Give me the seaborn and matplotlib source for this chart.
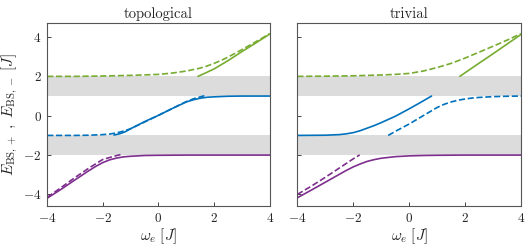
import numpy as np
import pandas as pd
import seaborn as sns
import matplotlib.pyplot as plt

# bound-state energies, omega_e in units of J
# topological panel
topo_purple_solid_x = [-4, -3.5, -3, -2.5, -2.25, -2, -1.75, -1.5, -1.25, -1, -0.5, 0, 1, 2, 3, 4]
topo_purple_solid_y = [-4.19, -3.74, -3.26, -2.79, -2.57, -2.38, -2.24, -2.15, -2.09, -2.06, -2.02, -2.01, -2.0, -2.0, -2.0, -2.0]
topo_purple_dash_x = [-4, -3.5, -3, -2.5, -2, -1.6, -1.35]
topo_purple_dash_y = [-4.15, -3.65, -3.14, -2.66, -2.22, -2.06, -1.97]
topo_blue_solid_x = [-1.6, -1.4, -1.2, -1, -0.5, 0, 0.5, 1, 1.25, 1.5, 1.75, 2, 2.5, 3, 4]
topo_blue_solid_y = [-0.98, -0.92, -0.82, -0.66, -0.3, 0.02, 0.37, 0.7, 0.81, 0.89, 0.94, 0.96, 0.99, 1.0, 1.0]
topo_blue_dash_x = [-4, -3, -2.5, -2, -1.75, -1.5, -1.25, -1, -0.5, 0, 0.5, 1, 1.3, 1.66]
topo_blue_dash_y = [-1.0, -1.0, -0.99, -0.96, -0.93, -0.87, -0.78, -0.66, -0.32, 0.02, 0.37, 0.72, 0.88, 1.02]
topo_green_solid_x = [1.42, 1.7, 2, 2.5, 3, 3.5, 4]
topo_green_solid_y = [2.0, 2.18, 2.38, 2.8, 3.26, 3.7, 4.15]
topo_green_dash_x = [-4, -3, -2, -1, 0, 0.5, 1, 1.5, 1.75, 2, 2.25, 2.5, 3, 3.5, 4]
topo_green_dash_y = [2.0, 2.0, 2.02, 2.05, 2.1, 2.17, 2.27, 2.42, 2.53, 2.66, 2.81, 2.98, 3.36, 3.76, 4.17]

# trivial panel
triv_purple_solid_x = [-4, -3.5, -3, -2.5, -2.25, -2, -1.75, -1.5, -1.25, -1, -0.5, 0, 0.5, 1, 2, 3, 4]
triv_purple_solid_y = [-4.17, -3.78, -3.38, -2.98, -2.78, -2.6, -2.45, -2.32, -2.23, -2.16, -2.08, -2.04, -2.02, -2.01, -2.0, -2.0, -2.0]
triv_purple_dash_x = [-4, -3.5, -3, -2.5, -2, -1.77]
triv_purple_dash_y = [-4.0, -3.58, -3.13, -2.66, -2.19, -1.99]
triv_blue_solid_x = [-4, -3, -2.5, -2.25, -2, -1.75, -1.5, -1.25, -1, -0.5, 0, 0.4, 0.8]
triv_blue_solid_y = [-1.0, -0.99, -0.96, -0.92, -0.86, -0.76, -0.63, -0.5, -0.35, -0.03, 0.35, 0.67, 1.0]
triv_blue_dash_x = [-0.75, -0.5, 0, 0.5, 1, 1.25, 1.5, 1.75, 2, 2.25, 2.5, 3, 3.5, 4]
triv_blue_dash_y = [-1.0, -0.8, -0.42, 0.0, 0.42, 0.58, 0.7, 0.79, 0.85, 0.9, 0.93, 0.97, 0.99, 1.0]
triv_green_solid_x = [1.81, 2.5, 3, 3.5, 4]
triv_green_solid_y = [2.0, 2.67, 3.15, 3.64, 4.13]
triv_green_dash_x = [-4, -3, -2, -1, -0.5, 0, 0.5, 1, 1.5, 2, 2.5, 3, 3.5, 4]
triv_green_dash_y = [2.0, 2.01, 2.03, 2.07, 2.1, 2.15, 2.27, 2.45, 2.66, 2.93, 3.23, 3.53, 3.84, 4.17]

# continuum bands
bands = [(1, 2), (-2, -1)]
titles = ['topological', 'trivial']

green = '#77AC30'
blue = '#0072BD'
purple = '#7E2F8E'

panels = [
    [(topo_green_dash_x, topo_green_dash_y, green, '--'),
     (topo_green_solid_x, topo_green_solid_y, green, '-'),
     (topo_blue_dash_x, topo_blue_dash_y, blue, '--'),
     (topo_blue_solid_x, topo_blue_solid_y, blue, '-'),
     (topo_purple_dash_x, topo_purple_dash_y, purple, '--'),
     (topo_purple_solid_x, topo_purple_solid_y, purple, '-')],
    [(triv_green_dash_x, triv_green_dash_y, green, '--'),
     (triv_green_solid_x, triv_green_solid_y, green, '-'),
     (triv_blue_dash_x, triv_blue_dash_y, blue, '--'),
     (triv_blue_solid_x, triv_blue_solid_y, blue, '-'),
     (triv_purple_dash_x, triv_purple_dash_y, purple, '--'),
     (triv_purple_solid_x, triv_purple_solid_y, purple, '-')],
]

sns.set_style('ticks')
plt.rcParams['font.family'] = ['cmr10']
plt.rcParams['mathtext.fontset'] = 'cm'
plt.rcParams['axes.formatter.use_mathtext'] = True
plt.rcParams['axes.unicode_minus'] = True

fig = plt.figure(figsize=(5.3, 2.5), dpi=100)
ax1 = fig.add_axes([0.089, 0.175, 0.420, 0.732])
ax2 = fig.add_axes([0.561, 0.175, 0.422, 0.732])

for ax, lines, title in zip([ax1, ax2], panels, titles):
    for lo, hi in bands:
        ax.axhspan(lo, hi, color='#dcdcdc', lw=0, zorder=0)
    for xs, ys, col, ls in lines:
        df = pd.DataFrame({'w': xs, 'E': ys})
        sns.lineplot(data=df, x='w', y='E', ax=ax, color=col,
                     linestyle=ls, lw=1.2, sort=False)
    ax.set_xlim(-4, 4)
    ax.set_ylim(-4.6, 4.7)
    ax.set_xticks([-4, -2, 0, 2, 4])
    ax.set_yticks([-4, -2, 0, 2, 4])
    ax.set_title(title, fontsize=10.5, pad=4)
    ax.set_xlabel(r'$\omega_e\ [J]$', fontsize=11, labelpad=1)
    ax.set_ylabel('')
    ax.tick_params(direction='in', length=3, width=0.7, color='#444444',
                   labelsize=9.5, pad=4)
    for s in ax.spines.values():
        s.set_color('#555555')
        s.set_linewidth(0.8)

ax2.tick_params(labelleft=False)
ax1.set_ylabel(r'$E_{\mathrm{BS},+}\ ,\ E_{\mathrm{BS},-}\ [J]$', fontsize=11,
               labelpad=2)

fig.savefig('out.png', dpi=100)
